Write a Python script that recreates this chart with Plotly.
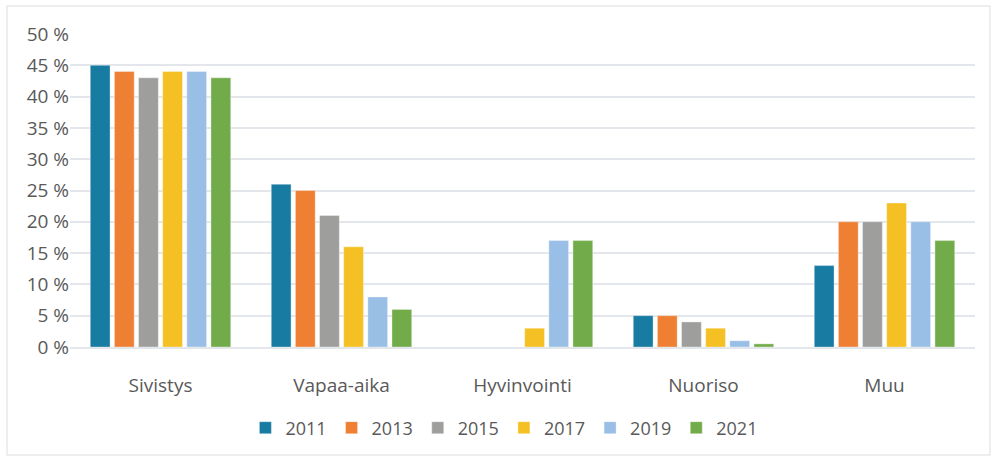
import plotly.graph_objects as go

categories = ["Sivistys", "Vapaa-aika", "Hyvinvointi", "Nuoriso", "Muu"]
years = ["2011", "2013", "2015", "2017", "2019", "2021"]
values = {
    "2011": [45, 26, 0, 5, 13],
    "2013": [44, 25, 0, 5, 20],
    "2015": [43, 21, 0, 4, 20],
    "2017": [44, 16, 3, 3, 23],
    "2019": [44, 8, 17, 1, 20],
    "2021": [43, 6, 17, 0.5, 17],
}
colors = ["#177BA2", "#EE7F33", "#9E9E9C", "#F4C024", "#99BFE6", "#72AC4A"]
y_ticks = [0, 5, 10, 15, 20, 25, 30, 35, 40, 45, 50]
y_tick_text = [f"{v} %" for v in y_ticks]

font_family = "Open Sans, Lato, sans-serif"
text_color = "#595959"
grid_color = "#E3E7EB"

fig = go.Figure()
for yr, col in zip(years, colors):
    fig.add_trace(go.Bar(
        name=yr, x=categories, y=values[yr],
        marker=dict(color=col, line=dict(color="rgba(255,255,255,0.35)", width=1)),
    ))

W, H = 998, 461
ml, mr, mt, mb = 70, 23, 34, 114
pw, ph = W - ml - mr, H - mt - mb

def px(x):
    return (x - ml) / pw

def py(y):
    return (H - mb - y) / ph

fig.update_layout(
    width=W, height=H,
    margin=dict(l=ml, r=mr, t=mt, b=mb, autoexpand=False),
    paper_bgcolor="white", plot_bgcolor="white",
    barmode="group", bargap=0.2, bargroupgap=0.18,
    font=dict(family=font_family, color=text_color, size=18),
    showlegend=True,
    legend=dict(orientation="h", x=0.48, xanchor="center", y=py(428), yanchor="middle",
                font=dict(size=18, color=text_color), itemwidth=30, traceorder="normal"),
    xaxis=dict(showgrid=False, showline=True, linecolor=grid_color, linewidth=2,
               ticks="outside", ticklen=20, tickcolor="rgba(0,0,0,0)",
               tickfont=dict(size=19, color=text_color)),
    yaxis=dict(range=[0, 50], tickmode="array", tickvals=y_ticks, ticktext=y_tick_text,
               showgrid=True, gridcolor=grid_color, gridwidth=2,
               zeroline=False, showline=False, ticklen=0,
               tickfont=dict(size=19, color=text_color)),
    shapes=[dict(type="rect", xref="paper", yref="paper",
                 x0=px(7), x1=px(990), y0=py(455), y1=py(6),
                 line=dict(color="#DADDE1", width=1), fillcolor="rgba(0,0,0,0)", layer="below")],
)

fig.write_html("out.html", config={"displayModeBar": False},
               post_script="document.body.style.margin='0';")
